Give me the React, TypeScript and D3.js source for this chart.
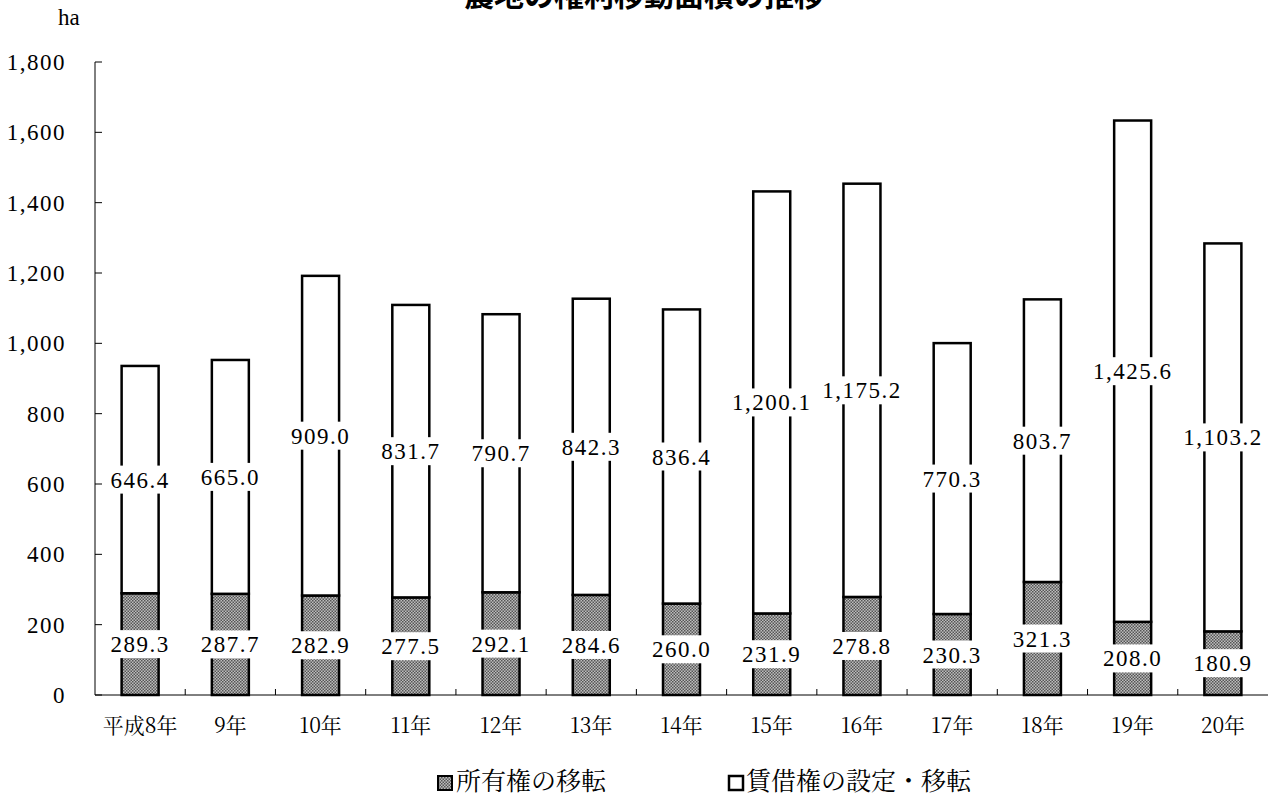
import React from "react";
import * as d3 from "d3";

const categories = ["平成8年", "9年", "10年", "11年", "12年", "13年", "14年", "15年", "16年", "17年", "18年", "19年", "20年"];
const ownership = [289.3, 287.7, 282.9, 277.5, 292.1, 284.6, 260.0, 231.9, 278.8, 230.3, 321.3, 208.0, 180.9];
const lease = [646.4, 665.0, 909.0, 831.7, 790.7, 842.3, 836.4, 1200.1, 1175.2, 770.3, 803.7, 1425.6, 1103.2];
const yTicks = [0, 200, 400, 600, 800, 1000, 1200, 1400, 1600, 1800];
const seriesNames = ["所有権の移転", "賃借権の設定・移転"];
const title = "農地の権利移動面積の推移";
const unit = "ha";

const W = 1280, H = 796;
const left = 95, right = 1268, top = 62, bottom = 695;
const SERIF = "Liberation Serif";
const MINCHO = "Noto Serif CJK JP";
const GOTHIC = "Noto Sans CJK JP";

export default function App() {
  const x = d3.scaleBand<string>().domain(categories).range([left, right]).paddingInner(0.59).paddingOuter(0.295);
  const xb = d3.scaleBand<string>().domain(categories).range([left, right]);
  const y = d3.scaleLinear().domain([0, 1800]).range([bottom, top]);
  const fmt = d3.format(",.1f");
  const bw = x.bandwidth();

  const labels: { cx: number; cy: number; text: string }[] = [];
  categories.forEach((c, i) => {
    const cx = x(c)! + bw / 2;
    labels.push({ cx, cy: y(ownership[i] / 2), text: fmt(ownership[i]) });
    labels.push({ cx, cy: y(ownership[i] + lease[i] / 2), text: fmt(lease[i]) });
  });

  return (
    <svg width={W} height={H} style={{ position: "absolute", left: 0, top: 0, background: "#fff" }}>
      <defs>
        <pattern id="chk" width="3" height="3" patternUnits="userSpaceOnUse">
          <rect width="3" height="3" fill="#bdbdbd" />
          <rect x="0" y="0" width="1.5" height="1.5" fill="#555" />
          <rect x="1.5" y="1.5" width="1.5" height="1.5" fill="#555" />
        </pattern>
      </defs>
      <rect width={W} height={H} fill="#fff" />
      <text x={644} y={6} textAnchor="middle" fontFamily={GOTHIC} fontWeight="bold" fontSize={30}>{title}</text>
      <text x={58} y={25} fontFamily={SERIF} fontSize={23}>{unit}</text>

      {categories.map((c, i) => {
        const bx = x(c)!;
        return (
          <g key={c}>
            <rect x={bx} y={y(ownership[i])} width={bw} height={y(0) - y(ownership[i])} fill="url(#chk)" stroke="#000" strokeWidth={2.5} />
            <rect x={bx} y={y(ownership[i] + lease[i])} width={bw} height={y(ownership[i]) - y(ownership[i] + lease[i])} fill="#fff" stroke="#000" strokeWidth={2.5} />
          </g>
        );
      })}

      <line x1={left} x2={left} y1={top} y2={bottom} stroke="#000" strokeWidth={1} />
      <line x1={left} x2={right} y1={bottom} y2={bottom} stroke="#000" strokeWidth={1} />
      {yTicks.map((t) => (
        <g key={t}>
          <line x1={left} x2={left + 7} y1={y(t)} y2={y(t)} stroke="#000" />
          <text x={66} y={y(t)} dy="0.35em" textAnchor="end" fontFamily={SERIF} fontSize={23} letterSpacing={1.5}>{d3.format(",")(t)}</text>
        </g>
      ))}
      {categories.map((c, i) => (
        <g key={"t" + c}>
          {i > 0 && <line x1={xb(c)!} x2={xb(c)!} y1={bottom} y2={bottom - 6} stroke="#000" />}
          <text x={xb(c)! + xb.bandwidth() / 2} y={726} dy="0.35em" textAnchor="middle" fontFamily={MINCHO} fontSize={21}>{c}</text>
        </g>
      ))}

      {labels.map((l, i) => {
        const w = l.text.length * 11.5 + (l.text.length - 1) * 1.5 + 6;
        return (
          <g key={"l" + i}>
            <rect x={l.cx - w / 2} y={l.cy - 14} width={w} height={28} fill="#fff" />
            <text x={l.cx} y={l.cy} dy="0.35em" textAnchor="middle" fontFamily={SERIF} fontSize={23} letterSpacing={1.5}>{l.text}</text>
          </g>
        );
      })}

      <rect x={438} y={776} width={14} height={14} fill="url(#chk)" stroke="#000" strokeWidth={2} />
      <text x={456} y={781} dy="0.35em" fontFamily={MINCHO} fontSize={25}>{seriesNames[0]}</text>
      <rect x={729} y={776} width={14} height={14} fill="#fff" stroke="#000" strokeWidth={2.5} />
      <text x={746} y={781} dy="0.35em" fontFamily={MINCHO} fontSize={25}>{seriesNames[1]}</text>
    </svg>
  );
}
